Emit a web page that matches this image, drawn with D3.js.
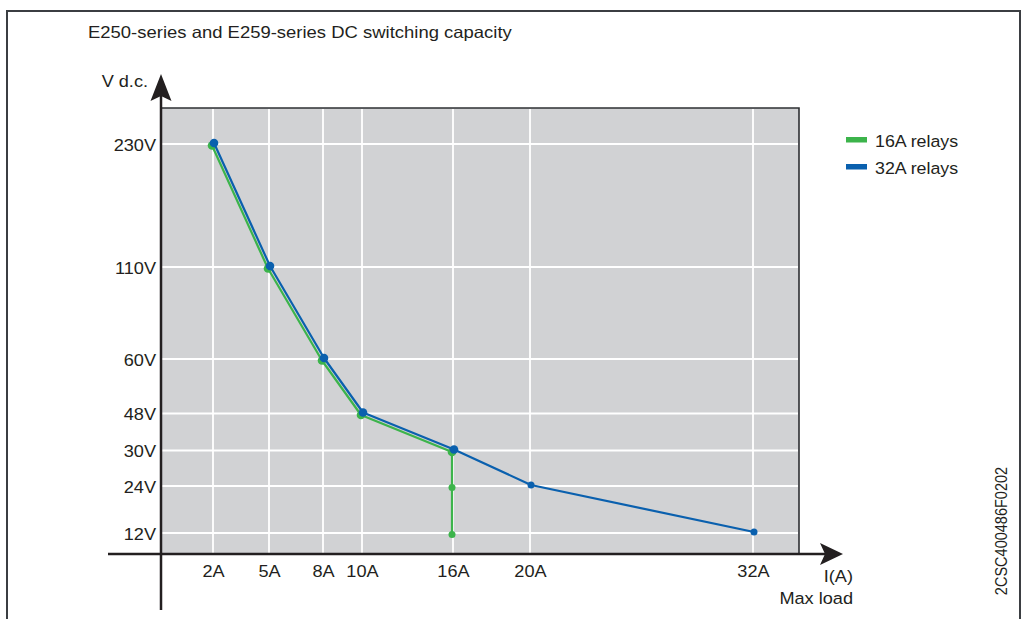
<!DOCTYPE html>
<html>
<head>
<meta charset="utf-8">
<script src="https://cdn.jsdelivr.net/npm/d3@7"></script>
<style>
  html, body { margin: 0; padding: 0; background: #fff; }
  svg { display: block; }
  text { font-family: "Liberation Sans", Arial, Helvetica, sans-serif; fill: #231f20; }
</style>
</head>
<body>
<svg id="chart" width="1022" height="619"></svg>
<script>
// ---- data ----
const title = "E250-series and E259-series DC switching capacity";
const xTickValues = [2, 5, 8, 10, 16, 20, 32];
const xTickLabels = ["2A", "5A", "8A", "10A", "16A", "20A", "32A"];
const yTickValues = [12, 24, 30, 48, 60, 110, 230];
const yTickLabels = ["12V", "24V", "30V", "48V", "60V", "110V", "230V"];
const seriesNames = ["16A relays", "32A relays"];
const relays16Current = [2, 5, 8, 10, 16, 16, 16];
const relays16Voltage = [230, 110, 60, 48, 30, 24, 12];
const relays32Current = [2, 5, 8, 10, 16, 20, 32];
const relays32Voltage = [230, 110, 60, 48, 30, 24, 12];
const yAxisTitle = "V d.c.";
const xAxisTitle = ["I(A)", "Max load"];
const docCode = "2CSC400486F0202";

// ---- layout ----
const W = 1022, H = 619;
const plot = { left: 161, right: 799, top: 108, bottom: 554 };
const xGridPx = [213, 269, 323, 362, 453, 530, 753];
const yGridPx = [533, 486, 450.5, 413.5, 359, 267, 144];
const colors = ["#3cb44b", "#0a60ae"];
const offsets = [[-1, 1.5], [1, -1]];
const SX = 1.1; // horizontal text stretch
const FS = 16.5;

const svg = d3.select("#chart");

// Scales (piecewise linear, ticks are non-uniformly spaced in the original)
const x = d3.scaleLinear().domain(xTickValues).range(xGridPx);
const y = d3.scaleLinear().domain(yTickValues).range(yGridPx);

// Outer frame
svg.append("rect")
  .attr("x", 7).attr("y", 11).attr("width", 1013).attr("height", 700)
  .attr("fill", "none").attr("stroke", "#3b3e42").attr("stroke-width", 2);

// Plot background
svg.append("rect")
  .attr("x", plot.left).attr("y", plot.top)
  .attr("width", plot.right - plot.left).attr("height", plot.bottom - plot.top)
  .attr("fill", "#d1d2d4");
// top and right border of plot
svg.append("path")
  .attr("d", `M${plot.left},${plot.top}H${plot.right}V${plot.bottom}`)
  .attr("fill", "none").attr("stroke", "#2e3033").attr("stroke-width", 1.6);

// Gridlines
const grid = svg.append("g");
grid.selectAll("line.v").data(xTickValues).join("line")
  .attr("x1", d => x(d)).attr("x2", d => x(d))
  .attr("y1", plot.top + 1).attr("y2", plot.bottom)
  .attr("stroke", "#ffffff").attr("stroke-width", 1.8);
grid.selectAll("line.h").data(yTickValues).join("line")
  .attr("x1", plot.left).attr("x2", plot.right - 1)
  .attr("y1", d => y(d)).attr("y2", d => y(d))
  .attr("stroke", "#ffffff").attr("stroke-width", 1.8);

// Axes lines with arrows
const axisColor = "#231f20";
svg.append("line").attr("x1", 108).attr("x2", 826).attr("y1", plot.bottom).attr("y2", plot.bottom)
  .attr("stroke", axisColor).attr("stroke-width", 2.5);
svg.append("path")
  .attr("d", `M843,${plot.bottom} L820,${plot.bottom - 11} L825,${plot.bottom} L820,${plot.bottom + 11} Z`)
  .attr("fill", axisColor);
svg.append("line").attr("x1", plot.left).attr("x2", plot.left).attr("y1", 610).attr("y2", 94)
  .attr("stroke", axisColor).attr("stroke-width", 2.5);
svg.append("path")
  .attr("d", `M${plot.left},74 L${plot.left - 10.5},101 L${plot.left},96 L${plot.left + 10.5},101 Z`)
  .attr("fill", axisColor);

// Axis tick labels via d3 axes (no tick lines)
const xAxis = d3.axisBottom(x).tickValues(xTickValues).tickFormat((d, i) => xTickLabels[i]).tickSize(0);
const gx = svg.append("g").attr("transform", `translate(0,${plot.bottom})`).call(xAxis);
gx.select(".domain").remove();
gx.selectAll("text")
  .attr("y", 0).attr("dy", null)
  .attr("transform", function() { return null; })
  .each(function(d) {
    d3.select(this)
      .attr("x", 0)
      .attr("transform", `translate(0,23) scale(${SX},1)`)
      .style("font-size", FS + "px").style("fill", "#231f20")
      .attr("font-family", null);
  });

const yAxis = d3.axisLeft(y).tickValues(yTickValues).tickFormat((d, i) => yTickLabels[i]).tickSize(0);
const gy = svg.append("g").attr("transform", `translate(${plot.left},0)`).call(yAxis);
gy.select(".domain").remove();
gy.selectAll("text")
  .attr("x", 0).attr("dy", null).attr("y", 0)
  .attr("transform", `translate(-5,6) scale(${SX},1)`)
  .style("font-size", FS + "px").style("fill", "#231f20")
  .attr("font-family", null);

// Series
const series = [
  seriesNames[0] && relays16Current.map((c, i) => ({ c, v: relays16Voltage[i] })),
  relays32Current.map((c, i) => ({ c, v: relays32Voltage[i] }))
];
const shared = (p) => relays16Current.some((c, i) => c === p.c && relays16Voltage[i] === p.v) &&
                       relays32Current.some((c, i) => c === p.c && relays32Voltage[i] === p.v);

const line = d3.line().x(d => x(d.c)).y(d => y(d.v));
series.forEach((pts, si) => {
  const g = svg.append("g").attr("transform", `translate(${offsets[si][0]},${offsets[si][1]})`);
  g.append("path").datum(pts).attr("d", line)
    .attr("fill", "none").attr("stroke", colors[si]).attr("stroke-width", 2.2)
    .attr("stroke-linejoin", "round");
  g.selectAll("circle").data(pts).join("circle")
    .attr("cx", d => x(d.c)).attr("cy", d => y(d.v))
    .attr("r", d => shared(d) ? 4.3 : 3.5)
    .attr("fill", colors[si]);
});

// Title
svg.append("text").attr("transform", `translate(88,38) scale(1.12,1)`)
  .style("font-size", FS + "px").text(title);

// Y axis title
svg.append("text").attr("transform", `translate(148,87) scale(${SX},1)`)
  .attr("text-anchor", "end").style("font-size", FS + "px").text(yAxisTitle);

// X axis titles
svg.append("text").attr("transform", `translate(853,582) scale(${SX},1)`)
  .attr("text-anchor", "end").style("font-size", FS + "px").text(xAxisTitle[0]);
svg.append("text").attr("transform", `translate(853,604) scale(${SX},1)`)
  .attr("text-anchor", "end").style("font-size", FS + "px").text(xAxisTitle[1]);

// Legend
const legend = svg.append("g");
seriesNames.forEach((name, i) => {
  legend.append("rect").attr("x", 846).attr("y", 137 + i * 27).attr("width", 21).attr("height", 5.5)
    .attr("fill", colors[i]);
  legend.append("text").attr("transform", `translate(875,${146.5 + i * 27}) scale(1.08,1)`)
    .style("font-size", FS + "px").text(name);
});

// Document code (vertical)
svg.append("text").attr("transform", `translate(1007,531) rotate(-90) scale(0.88,1)`)
  .attr("text-anchor", "middle").style("font-size", FS + "px").text(docCode);
</script>
</body>
</html>
